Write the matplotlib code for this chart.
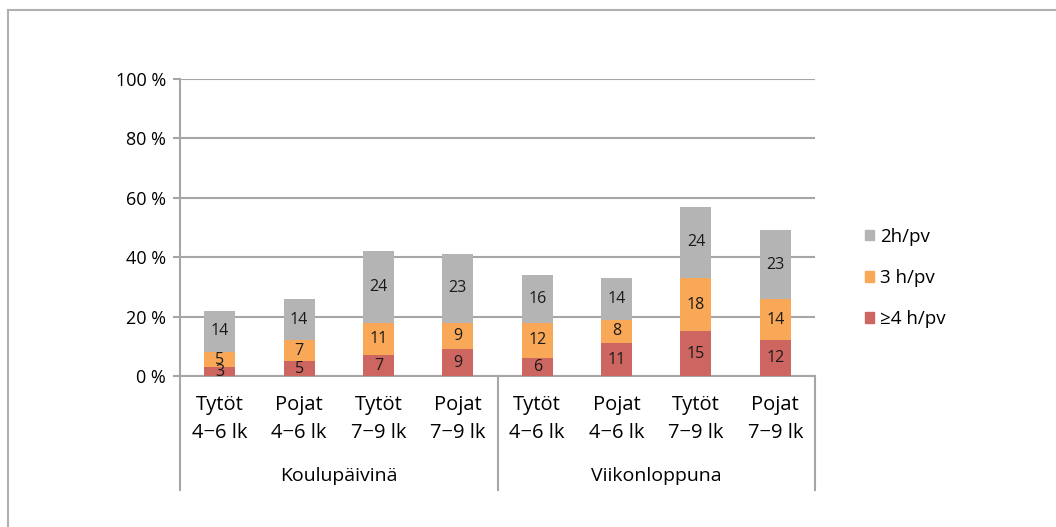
import matplotlib
matplotlib.use("Agg")
import matplotlib.pyplot as plt
from matplotlib.lines import Line2D
from matplotlib.patches import Patch

plt.rcParams['font.family'] = ['Open Sans', 'DejaVu Sans']

categories = ["Tytöt\n4−6 lk", "Pojat\n4−6 lk", "Tytöt\n7−9 lk", "Pojat\n7−9 lk",
              "Tytöt\n4−6 lk", "Pojat\n4−6 lk", "Tytöt\n7−9 lk", "Pojat\n7−9 lk"]
groups = ["Koulupäivinä", "Viikonloppuna"]
series_names = ["≥4 h/pv", "3 h/pv", "2h/pv"]
vals_4h = [3, 5, 7, 9, 6, 11, 15, 12]
vals_3h = [5, 7, 11, 9, 12, 8, 18, 14]
vals_2h = [14, 14, 24, 23, 16, 14, 24, 23]
yticks = [0, 20, 40, 60, 80, 100]

colors = ["#CD6660", "#F9A857", "#B4B4B4"]
grid_col = "#A6A6A6"

W, H = 1056, 527
fig = plt.figure(figsize=(W / 100, H / 100), dpi=100)

# outer frame (top and left edges)
fig.add_artist(Line2D([8 / W, 1], [1 - 10 / H, 1 - 10 / H], transform=fig.transFigure,
                      color="#B0B0B0", lw=1.5))
fig.add_artist(Line2D([8 / W, 8 / W], [0, 1 - 10 / H], transform=fig.transFigure,
                      color="#B0B0B0", lw=1.5))

left, right, top, bottom = 180, 815, 79, 376
ax = fig.add_axes([left / W, 1 - bottom / H, (right - left) / W, (bottom - top) / H])

x = list(range(len(categories)))
width = 0.39
bottoms = [0] * len(x)
for vals, col in zip([vals_4h, vals_3h, vals_2h], colors):
    ax.bar(x, vals, width, bottom=bottoms, color=col, zorder=3)
    for xi, v, b in zip(x, vals, bottoms):
        ax.text(xi, b + v / 2, str(v), ha="center", va="center", fontsize=11.5,
                color="#1A1A1A", zorder=4)
    bottoms = [b + v for b, v in zip(bottoms, vals)]

ax.set_xlim(-0.5, len(x) - 0.5)
ax.set_ylim(0, 100)
ax.set_yticks(yticks)
ax.set_yticklabels([f"{t} %" for t in yticks], fontsize=13)
ax.yaxis.grid(True, color=grid_col, lw=1.5, zorder=0)
ax.tick_params(axis="y", length=5, width=1.5, color=grid_col, pad=5)
ax.set_xticks([])
for s in ["top", "right"]:
    ax.spines[s].set_visible(False)
ax.spines["left"].set_color(grid_col)
ax.spines["left"].set_linewidth(1.5)
ax.spines["bottom"].set_color(grid_col)
ax.spines["bottom"].set_linewidth(1.5)

# category and group labels below the axis
tr = ax.get_xaxis_transform()
def yax(py):
    return -(py - bottom) / (bottom - top)

for xi, lab in zip(x, categories):
    l1, l2 = lab.split("\n")
    ax.text(xi, yax(405), l1, transform=tr, ha="center", va="center", fontsize=14.5, clip_on=False)
    ax.text(xi, yax(433), l2, transform=tr, ha="center", va="center", fontsize=14.5, clip_on=False)

for gi, g in enumerate(groups):
    ax.text(gi * 4 + 1.5, yax(476), g, transform=tr, ha="center", va="center", fontsize=14,
            clip_on=False)

for sx in [-0.5, 3.5, 7.5]:
    ax.add_line(Line2D([sx, sx], [0, yax(490)], transform=tr, color=grid_col, lw=1.5,
                       clip_on=False))

handles = [Patch(color=c) for c in colors[::-1]]
leg = fig.legend(handles, series_names[::-1], loc="center left",
                 bbox_to_anchor=(848 / W, 1 - 278 / H), frameon=False, fontsize=13.5,
                 handlelength=0.5, handleheight=0.5, handletextpad=0.3, labelspacing=1.25)

fig.savefig("out.png", dpi=100)
